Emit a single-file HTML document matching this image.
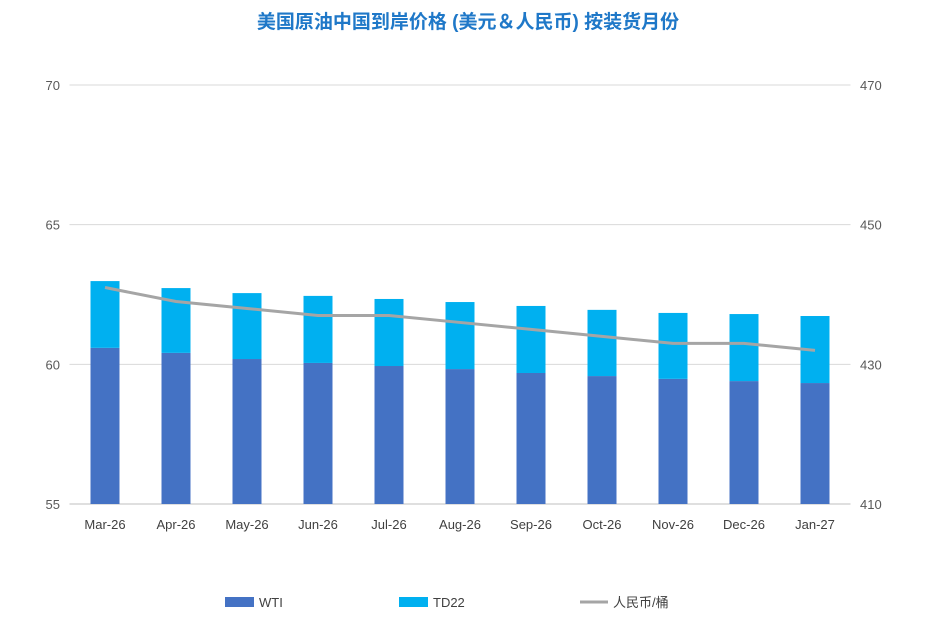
<!DOCTYPE html>
<html><head><meta charset="utf-8"><style>
body{margin:0;background:#fff;}
svg{display:block;font-family:"Liberation Sans","Noto Sans CJK SC",sans-serif;}
</style></head><body>
<svg id="chart" width="937" height="634">
<text x="468" y="28" text-anchor="middle" font-size="19" font-weight="bold" fill="#1f78c8">美国原油中国到岸价格 (美元＆人民币) 按装货月份</text>
<g id="grid"></g><g id="bars"></g><g id="line"></g><g id="axes"></g>
<g>
<rect x="225" y="597" width="29" height="10" fill="#4472c4"/>
<text x="259" y="607" font-size="13" fill="#404040">WTI</text>
<rect x="399" y="597" width="29" height="10" fill="#00b0f0"/>
<text x="433" y="607" font-size="13" fill="#404040">TD22</text>
<line x1="580" y1="602" x2="608" y2="602" stroke="#a5a5a5" stroke-width="3"/>
<text x="613" y="607" font-size="13" fill="#404040">人民币/桶</text>
</g>
</svg>
<script>
const categories=["Mar-26","Apr-26","May-26","Jun-26","Jul-26","Aug-26","Sep-26","Oct-26","Nov-26","Dec-26","Jan-27"];
const wti=[60.59,60.41,60.19,60.05,59.94,59.83,59.69,59.58,59.48,59.40,59.33];
const td22=[2.39,2.32,2.36,2.40,2.40,2.40,2.40,2.37,2.36,2.40,2.40];
const rmb=[441,439,438,437,437,436,435,434,433,433,432];
const leftTicks=[55,60,65,70];
const rightTicks=[410,430,450,470];
const NS="http://www.w3.org/2000/svg";
const L=69.5,R=850.5,T=85,B=504;
const yL=v=>B-(v-55)/(70-55)*(B-T);
const yR=v=>B-(v-410)/(470-410)*(B-T);
const step=(R-L)/categories.length;
const xC=i=>L+step*(i+0.5);
function mk(tag,attrs,parent){const e=document.createElementNS(NS,tag);for(const k in attrs)e.setAttribute(k,attrs[k]);document.getElementById(parent).appendChild(e);return e;}
leftTicks.forEach((t,i)=>{
 const g=mk('line',{x1:L,x2:R,y1:yL(t),y2:yL(t),stroke:i==0?'#bfbfbf':'#d9d9d9','stroke-width':1},'grid');
 
 
 const tx=mk('text',{x:60,y:yL(t)+5,'text-anchor':'end','font-size':13,fill:'#595959'},'axes');
 tx.textContent=t;
 
 
});
rightTicks.forEach(t=>{
 const tx=mk('text',{x:860,y:yR(t)+5,'font-size':13,fill:'#595959'},'axes');
 tx.textContent=t;
 
 
});
const bw=29;
categories.forEach((c,i)=>{
 const x=xC(i)-bw/2;
 const b1=mk('rect',{x:x,y:yL(wti[i]),width:bw,height:B-yL(wti[i]),fill:'#4472c4'},'bars');
 
 
 const top=wti[i]+td22[i];
 const b2=mk('rect',{x:x,y:yL(top),width:bw,height:yL(wti[i])-yL(top),fill:'#00b0f0'},'bars');
 
 
 const tx=mk('text',{x:xC(i),y:529,'text-anchor':'middle','font-size':13,fill:'#404040'},'axes');
 tx.textContent=c;
 
 
});
const pl=mk('polyline',{points:rmb.map((v,i)=>xC(i)+','+yR(v)).join(' '),fill:'none',stroke:'#a5a5a5','stroke-width':3},'line');


</script>
</body></html>
